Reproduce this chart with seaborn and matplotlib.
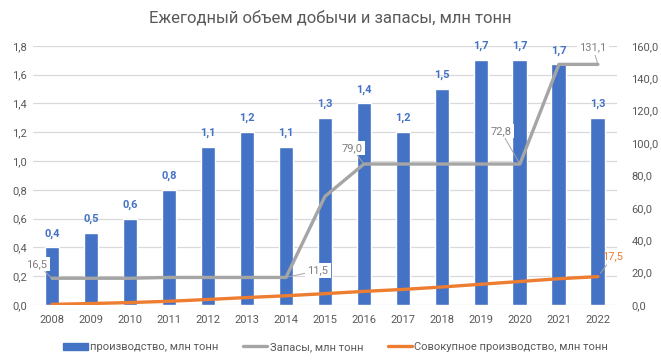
import numpy as np
import pandas as pd
import matplotlib
matplotlib.use("Agg")
import matplotlib.pyplot as plt
import seaborn as sns
from matplotlib.patches import Patch
from matplotlib.lines import Line2D

years = ["2008", "2009", "2010", "2011", "2012", "2013", "2014", "2015",
         "2016", "2017", "2018", "2019", "2020", "2021", "2022"]
production = [0.4, 0.5, 0.6, 0.8, 1.1, 1.2, 1.1, 1.3, 1.4, 1.2, 1.5, 1.7, 1.7, 1.67, 1.3]
reserves = [16.5, 16.5, 16.5, 17.0, 17.0, 17.0, 17.0, 67.0, 87.0, 87.0, 87.0, 87.0, 87.0, 148.5, 148.5]
cumulative = [0.4, 0.9, 1.5, 2.3, 3.4, 4.6, 5.7, 7.0, 8.4, 9.6, 11.1, 12.8, 14.5, 16.2, 17.5]
# reserve labels as printed on the chart: (year index, text, dx px, dy px)
reserve_labels = [(0, "16,5", -15, 14), (6, "11,5", 32, 7), (8, "79,0", -12, 16),
                  (12, "72,8", -19, 33), (14, "131,1", -5, 17)]
cum_label = (14, "17,5", 15, 20)

BLUE = "#4472C4"
GRAY = "#A5A5A5"
ORANGE = "#ED7D31"
TXT = "#595959"

sns.set_style("white")
plt.rcParams["font.family"] = ["Roboto", "DejaVu Sans"]

fig = plt.figure(figsize=(6.61, 3.63), dpi=100)
ax = fig.add_axes([0.0492, 0.1598, 0.934 - 0.0492, 0.874 - 0.1598])

df = pd.DataFrame({"year": years, "prod": production})
sns.barplot(data=df, x="year", y="prod", color=BLUE, saturation=1, width=0.38, ax=ax)
ax.set_ylim(0, 1.8)
ax.set_xlim(-0.5, len(years) - 0.5)
ax.set_yticks(np.arange(0, 1.81, 0.2))
ax.set_yticklabels([f"{v:.1f}".replace(".", ",") for v in np.arange(0, 1.81, 0.2)])
ax.grid(axis="y", color="#D9D9D9", lw=0.9)
ax.set_axisbelow(True)
ax.set_xlabel("")
ax.set_ylabel("")
for s in ax.spines.values():
    s.set_visible(False)
ax.tick_params(axis="both", length=0, labelsize=8, labelcolor=TXT)
ax.tick_params(axis="y", pad=4)
ax.tick_params(axis="x", pad=7)

for i, v in enumerate(production):
    ax.annotate(f"{v:.1f}".replace(".", ","), (i, v), xytext=(0, 14), textcoords="offset pixels",
                ha="center", va="center", color=BLUE, fontsize=8, fontweight="bold")

ax2 = ax.twinx()
x = np.arange(len(years))
sns.lineplot(x=x, y=reserves, color=GRAY, lw=2.4, ax=ax2, zorder=3)
sns.lineplot(x=x, y=cumulative, color=ORANGE, lw=2.4, ax=ax2, zorder=4)
ax2.set_ylim(0, 160)
ax2.set_yticks(np.arange(0, 161, 20))
ax2.set_yticklabels([f"{v:.1f}".replace(".", ",") for v in np.arange(0, 161, 20)])
for s in ax2.spines.values():
    s.set_visible(False)
ax2.tick_params(axis="y", length=0, labelsize=8, labelcolor=TXT, pad=10)
ax2.set_ylabel("")

for i, t, dx, dy in reserve_labels:
    ax2.annotate(t, (i, reserves[i]), xytext=(dx, dy), textcoords="offset pixels",
                 ha="center", va="center", color="#7F7F7F", fontsize=8,
                 bbox=dict(boxstyle="square,pad=0.2", fc="white", ec="none"),
                 arrowprops=dict(arrowstyle="-", color="#A5A5A5", lw=0.7, shrinkA=0, shrinkB=0))
i, t, dx, dy = cum_label
ax2.annotate(t, (i, cumulative[i]), xytext=(dx, dy), textcoords="offset pixels",
             ha="center", va="center", color=ORANGE, fontsize=8,
             arrowprops=dict(arrowstyle="-", color="#A5A5A5", lw=0.7, shrinkA=0, shrinkB=3))

fig.text(0.5, 0.95, "Ежегодный объем добычи и запасы, млн тонн", ha="center", va="center",
         fontsize=12, color=TXT)

handles = [Patch(color=BLUE), Line2D([], [], color=GRAY, lw=2.4), Line2D([], [], color=ORANGE, lw=2.4)]
labels = ["производство, млн тонн", "Запасы, млн тонн", "Совокупное производство, млн тонн"]
fig.legend(handles, labels, loc="center", bbox_to_anchor=(0.508, 0.044), ncol=3, frameon=False,
           fontsize=8, labelcolor=TXT, handlelength=2.2, handleheight=0.6, handletextpad=0.2,
           columnspacing=2.2)

fig.savefig("out.png", dpi=100)
